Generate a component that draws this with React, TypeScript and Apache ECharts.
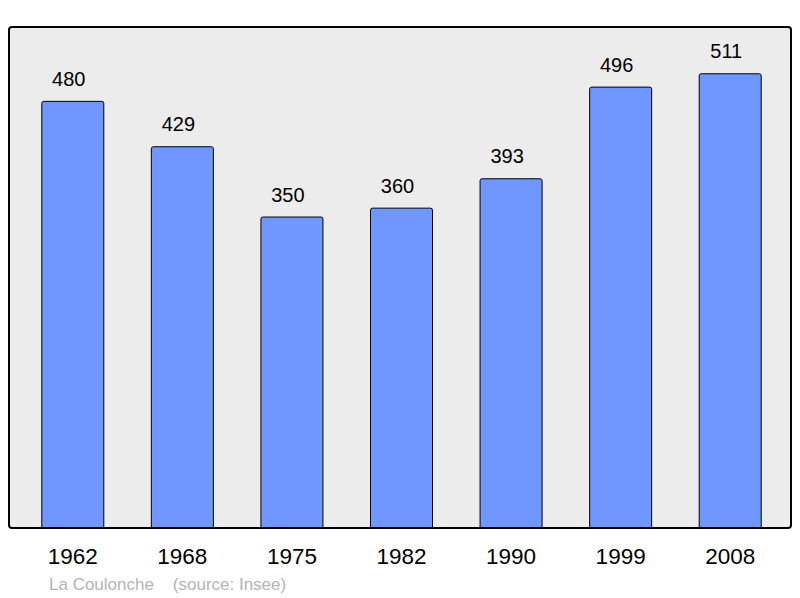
import React, { useEffect, useRef } from "react";
import * as echarts from "echarts";

const years = ["1962", "1968", "1975", "1982", "1990", "1999", "2008"];
const population = [480, 429, 350, 360, 393, 496, 511];
const footer = "La Coulonche    (source: Insee)";

export default function App() {
  const ref = useRef<HTMLDivElement>(null);
  useEffect(() => {
    const chart = echarts.init(ref.current!, null, { renderer: "svg" });
    chart.setOption({
      animation: false,
      grid: { left: 18, right: 15, top: 27, bottom: 70, containLabel: false },
      graphic: [
        {
          type: "rect",
          z: -10,
          shape: { x: 9, y: 27, width: 782, height: 501, r: 3 },
          style: { fill: "#ececec", stroke: "#000", lineWidth: 2 },
        },
        {
          type: "text",
          left: 49,
          top: 576,
          style: {
            text: footer,
            fill: "#b4b4b4",
            font: "17px 'Liberation Sans', Arial, sans-serif",
          },
        },
      ],
      xAxis: {
        type: "category",
        data: years,
        axisLine: { show: false },
        axisTick: { show: false },
        axisLabel: {
          color: "#000",
          fontSize: 22.5,
          fontFamily: "'Liberation Sans', Arial, sans-serif",
          margin: 17,
        },
      },
      yAxis: {
        type: "value",
        min: 0,
        max: 563,
        show: false,
        splitLine: { show: false },
      },
      series: [
        {
          type: "bar",
          data: population,
          barWidth: 63,
          itemStyle: {
            color: "#7096ff",
            borderColor: "#000",
            borderWidth: 1,
            borderRadius: [2, 2, 0, 0],
          },
          label: {
            show: true,
            position: "top",
            distance: 12,
            offset: [-4, 0],
            color: "#000",
            fontSize: 20,
            fontFamily: "'Liberation Sans', Arial, sans-serif",
          },
        },
      ],
    });
    return () => chart.dispose();
  }, []);
  return <div ref={ref} style={{ width: 800, height: 598, position: "absolute", left: 0, top: 0 }} />;
}
